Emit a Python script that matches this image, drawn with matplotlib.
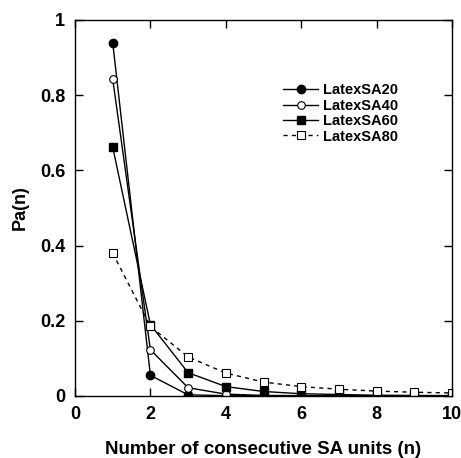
import matplotlib
matplotlib.use("Agg")
import matplotlib.pyplot as plt

n = [1, 2, 3, 4, 5, 6, 7, 8, 9, 10]
sa20 = [0.940, 0.055, 0.003, 0.001, 0.0005, 0.0003, 0.0002, 0.0001, 0.0001, 0.0001]
sa40 = [0.843, 0.123, 0.022, 0.005, 0.0015, 0.001, 0.0005, 0.0003, 0.0002, 0.0001]
sa60 = [0.662, 0.190, 0.062, 0.025, 0.012, 0.006, 0.004, 0.002, 0.0015, 0.001]
sa80 = [0.380, 0.185, 0.104, 0.061, 0.037, 0.025, 0.018, 0.013, 0.010, 0.008]
labels = ["LatexSA20", "LatexSA40", "LatexSA60", "LatexSA80"]

plt.rcParams['font.family'] = ['Liberation Sans', 'DejaVu Sans']
plt.rcParams['font.weight'] = 'bold'

fig = plt.figure(figsize=(4.61, 4.58), dpi=100)
ax = fig.add_axes([75/461, 1-396/458, (452-75)/461, (396-20)/458])

ax.plot(n, sa20, '-', color='black', lw=1.0, marker='o', ms=6, mfc='black', label=labels[0])
ax.plot(n, sa40, '-', color='black', lw=1.0, marker='o', ms=5.5, mfc='white', mew=0.8, label=labels[1])
ax.plot(n, sa60, '-', color='black', lw=1.0, marker='s', ms=6, mfc='black', label=labels[2])
ax.plot(n, sa80, '--', color='black', lw=1.0, marker='s', ms=5.5, mfc='white', mew=0.8, dashes=(3, 3), label=labels[3])

ax.set_xlim(0, 10)
ax.set_ylim(0, 1)
ax.set_xticks([0, 2, 4, 6, 8, 10])
ax.set_yticks([0, 0.2, 0.4, 0.6, 0.8, 1.0])
ax.set_yticklabels(['0', '0.2', '0.4', '0.6', '0.8', '1'])
ax.tick_params(direction='in', top=True, right=True, length=6, width=1, labelsize=13, pad=7)
for lab in ax.get_xticklabels() + ax.get_yticklabels():
    lab.set_fontweight('bold')
for s in ax.spines.values():
    s.set_linewidth(1.0)

ax.set_xlabel('Number of consecutive SA units (n)', fontsize=13.5, fontweight='bold', labelpad=13)
ax.set_ylabel('Pa(n)', fontsize=13, fontweight='bold', labelpad=8)

leg = ax.legend(loc='upper left', bbox_to_anchor=(0.552, 0.832), frameon=False,
                prop={'size': 10.5, 'weight': 'bold'}, handlelength=2.4,
                handletextpad=0.35, labelspacing=0.1, borderpad=0, borderaxespad=0)

fig.savefig('out.png', dpi=100)
